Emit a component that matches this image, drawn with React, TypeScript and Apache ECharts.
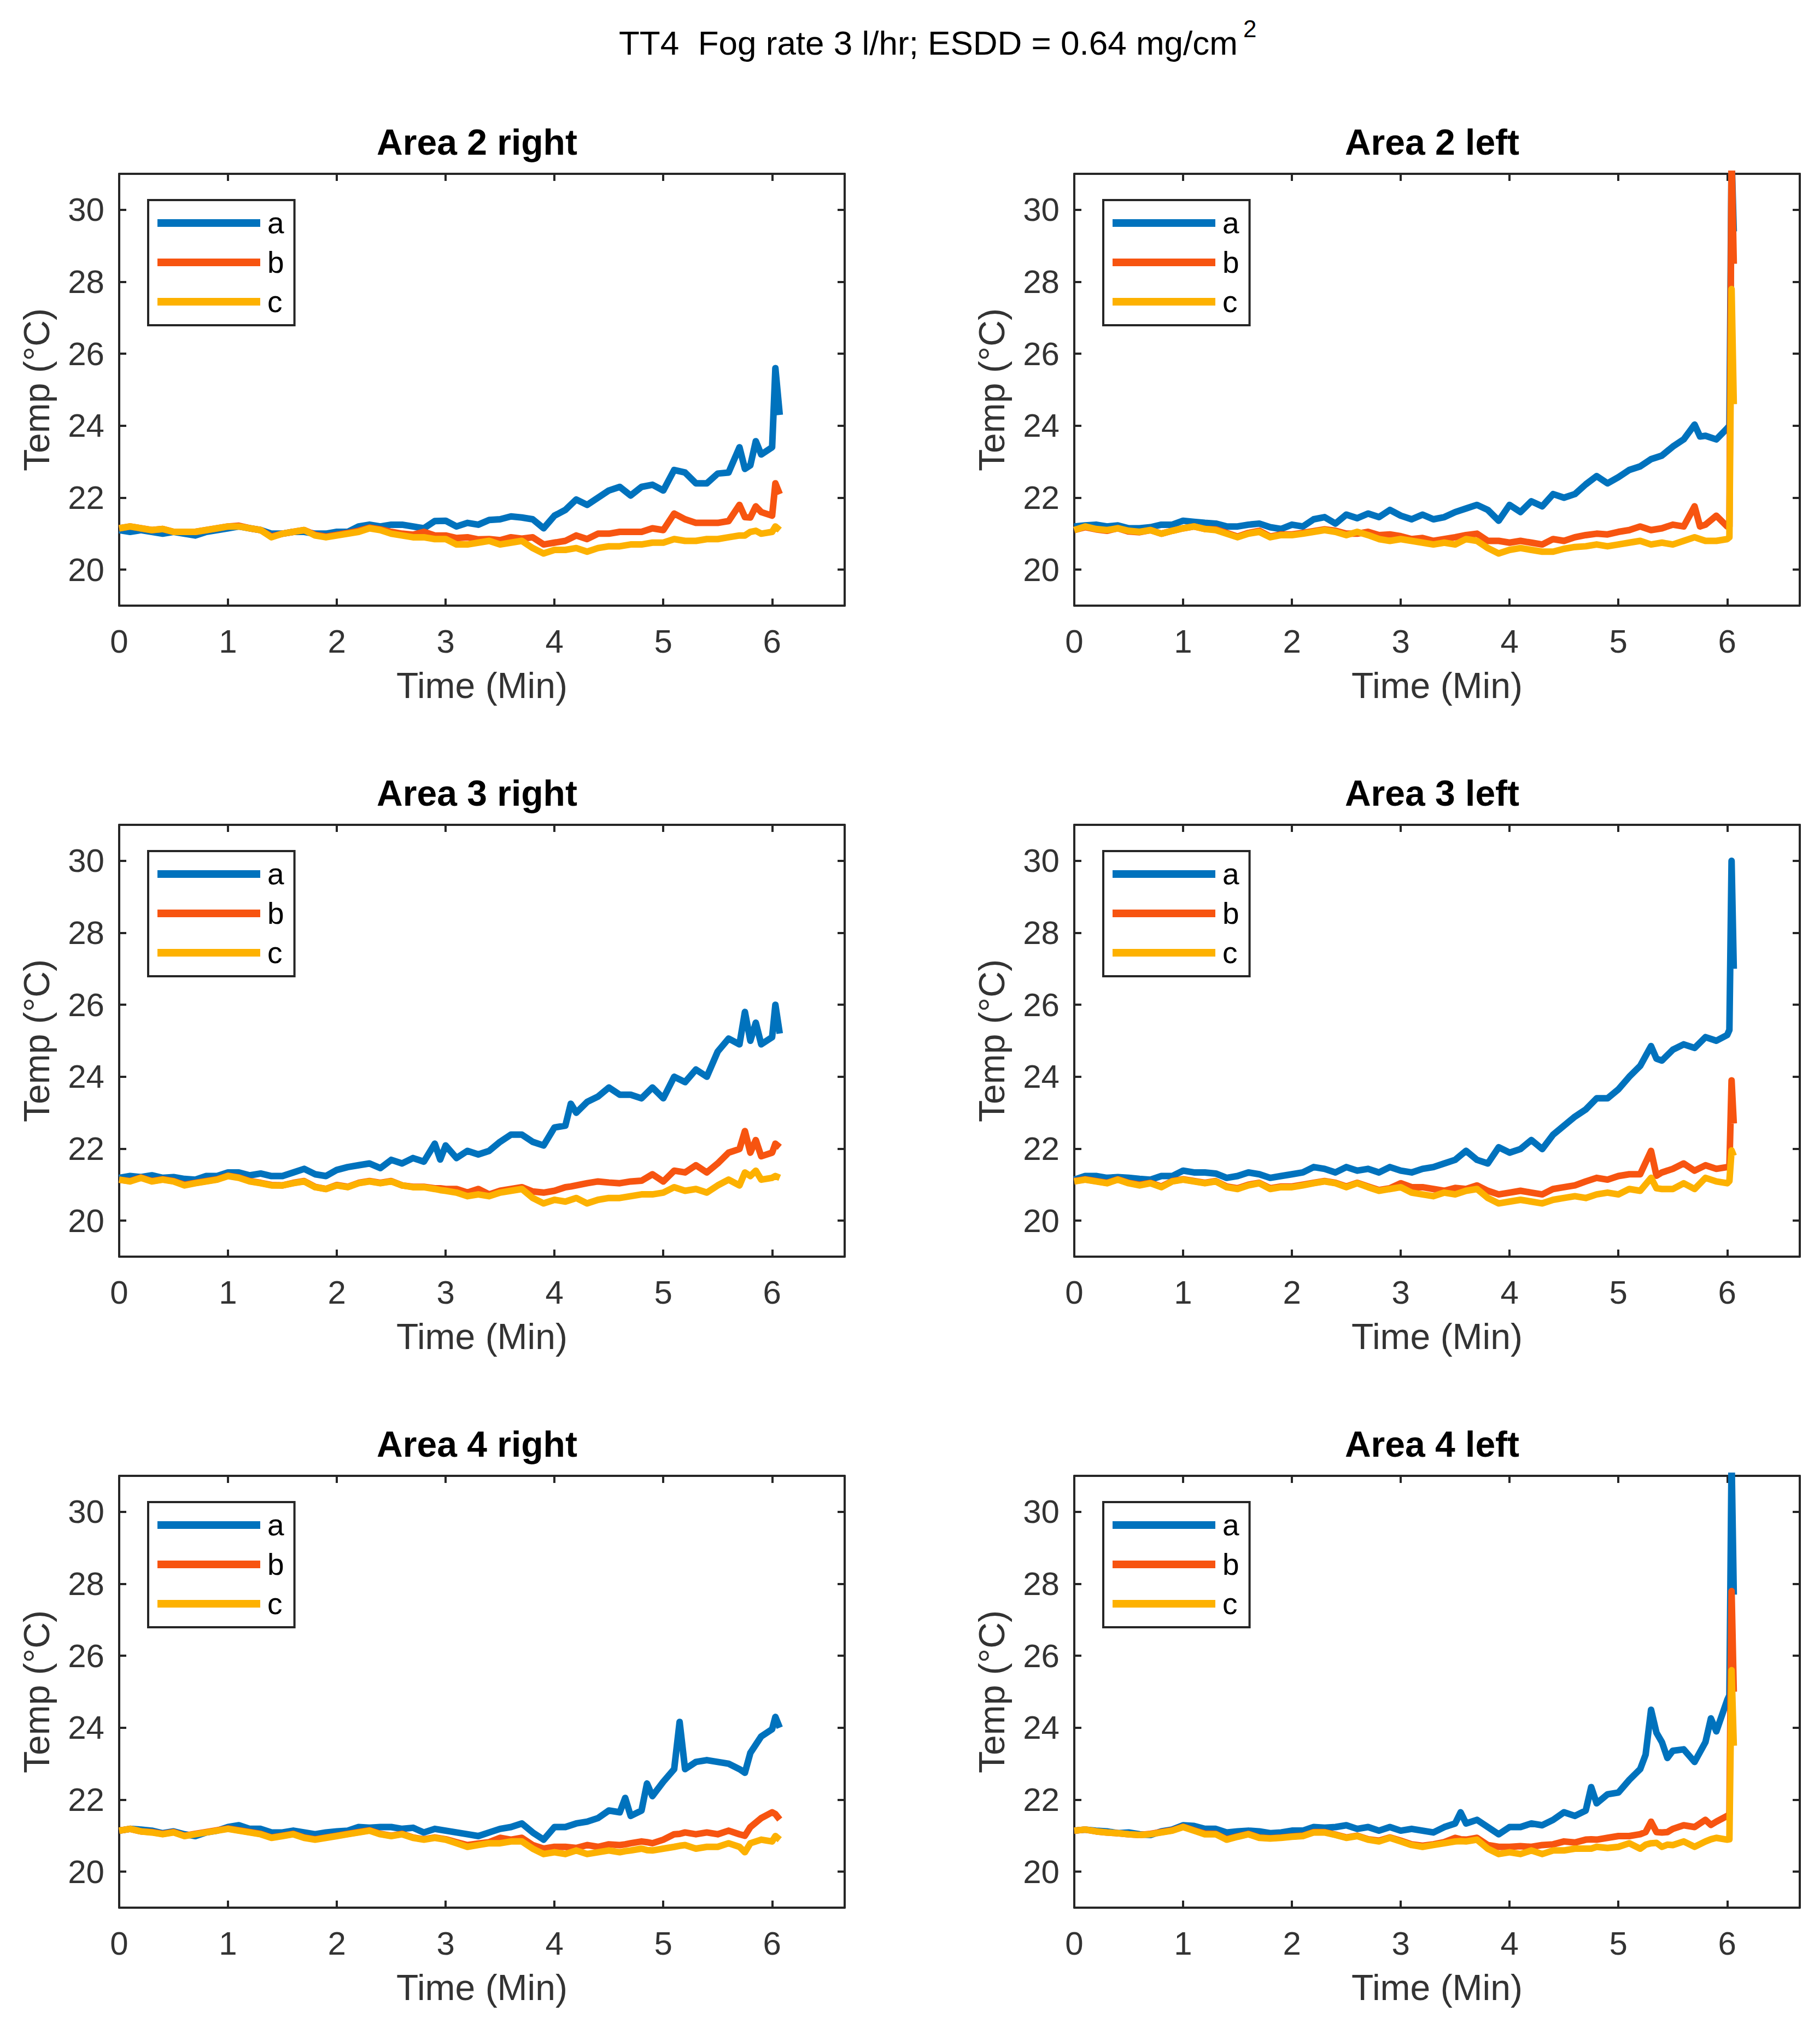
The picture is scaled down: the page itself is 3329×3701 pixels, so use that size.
import React, { useEffect, useRef } from "react";
import * as echarts from "echarts";

const W = 3329;
const H = 3701;
const FONT = "'Liberation Sans', Arial, Helvetica, sans-serif";

const COLOR_A = "#0072BD";
const COLOR_B = "#F75410";
const COLOR_C = "#FDB100";

const MAIN_TITLE = "TT4  Fog rate 3 l/hr; ESDD = 0.64 mg/cm";
const MAIN_TITLE_SUP = "2";
const X_NAME = "Time (Min)";
const Y_NAME = "Temp (°C)";
const SERIES_NAMES = ["a", "b", "c"];
const X_TICKS = [0, 1, 2, 3, 4, 5, 6];
const Y_TICKS = [20, 22, 24, 26, 28, 30];
const X_MIN = 0;
const X_MAX = 6.6667;
const Y_MIN = 19;
const Y_MAX = 31;

const TIME = [
  0, 0.1, 0.2, 0.3, 0.4, 0.5, 0.6, 0.7, 0.8, 0.9,
  1.0, 1.1, 1.2, 1.3, 1.4, 1.5, 1.6, 1.7, 1.8, 1.9,
  2.0, 2.1, 2.2, 2.3, 2.4, 2.5, 2.6, 2.7, 2.8, 2.9,
  3.0, 3.1, 3.2, 3.3, 3.4, 3.5, 3.6, 3.7, 3.8, 3.9,
  4.0, 4.1, 4.2, 4.3, 4.4, 4.5, 4.6, 4.7, 4.8, 4.9,
  5.0, 5.1, 5.2, 5.3, 5.4, 5.5, 5.6, 5.7, 5.8, 5.9, 6.0,
];

// ---------- Area 2 right ----------
const A2R_A = [
  21.1, 21.05, 21.1, 21.05, 21.0, 21.05, 21.0, 20.95, 21.05, 21.1,
  21.15, 21.2, 21.15, 21.1, 21.0, 21.0, 21.05, 21.05, 21.0, 21.0,
  21.05, 21.05, 21.2, 21.25, 21.2, 21.25, 21.25, 21.2, 21.15, 21.35,
  21.36, 21.2, 21.3, 21.25, 21.38, 21.4, 21.48, 21.45, 21.4, 21.15,
  21.5, 21.66, 21.95, 21.8, 22.0, 22.2, 22.3, 22.06, 22.3, 22.36,
  22.2, 22.77, 22.7, 22.4, 22.4, 22.67, 22.7, 23.4, 22.9, 23.2, 23.4,
];
const A2R_B = [
  21.15, 21.2, 21.15, 21.1, 21.13, 21.05, 21.05, 21.05, 21.1, 21.15,
  21.2, 21.22, 21.15, 21.1, 20.92, 21.0, 21.05, 21.1, 20.97, 20.92,
  20.97, 21.02, 21.08, 21.17, 21.12, 21.05, 21.0, 20.97, 21.05, 20.95,
  20.95, 20.88, 20.9, 20.84, 20.85, 20.82, 20.9, 20.86, 20.9, 20.7,
  20.75, 20.8, 20.95, 20.85, 21.0, 21.0, 21.05, 21.05, 21.05, 21.15,
  21.1, 21.56, 21.4, 21.3, 21.3, 21.3, 21.35, 21.8, 21.45, 21.6, 21.5,
];
const A2R_C = [
  21.15, 21.2, 21.15, 21.1, 21.13, 21.05, 21.05, 21.05, 21.1, 21.15,
  21.2, 21.2, 21.15, 21.1, 20.9, 21.0, 21.05, 21.1, 20.95, 20.9,
  20.95, 21.0, 21.05, 21.15, 21.1, 21.0, 20.95, 20.9, 20.9, 20.85,
  20.85, 20.7, 20.7, 20.75, 20.8, 20.7, 20.75, 20.8, 20.6, 20.45,
  20.55, 20.55, 20.6, 20.5, 20.6, 20.65, 20.65, 20.7, 20.7, 20.75,
  20.75, 20.85, 20.8, 20.8, 20.85, 20.85, 20.9, 20.95, 21.05, 21.0, 21.05,
];
const A2R_EX_T = [5.75, 5.85, 6.03, 6.07];
const A2R_EX_A = [22.8, 23.57, 25.6, 24.3];
const A2R_EX_B = [21.46, 21.76, 22.4, 22.1];
const A2R_EX_C = [20.95, 21.08, 21.2, 21.1];

// ---------- Area 2 left ----------
const A2L_A = [
  21.2, 21.23, 21.25, 21.2, 21.23, 21.15, 21.15, 21.18, 21.25, 21.25,
  21.36, 21.33, 21.3, 21.28, 21.2, 21.2, 21.25, 21.28, 21.18, 21.13,
  21.25, 21.2, 21.4, 21.46, 21.28, 21.53, 21.43, 21.56, 21.46, 21.66,
  21.5, 21.4, 21.53, 21.4, 21.46, 21.6, 21.7, 21.8, 21.66, 21.36,
  21.8, 21.6, 21.9, 21.76, 22.1, 22.0, 22.1, 22.37, 22.6, 22.4,
  22.57, 22.77, 22.87, 23.07, 23.17, 23.42, 23.62, 24.03, 23.72, 23.62, 23.93,
];
const A2L_B = [
  21.1, 21.18, 21.12, 21.08, 21.15, 21.06, 21.04, 21.1, 21.0, 21.08,
  21.15, 21.2, 21.13, 21.12, 21.02, 20.92, 21.02, 21.08, 20.92, 20.98,
  20.98, 21.02, 21.07, 21.12, 21.08, 21.0, 21.0, 21.05, 20.96, 20.98,
  20.93, 20.85, 20.88, 20.8, 20.85, 20.9, 20.96, 21.0, 20.8, 20.8,
  20.75, 20.8, 20.75, 20.7, 20.85, 20.8, 20.9, 20.96, 21.0, 20.98,
  21.05, 21.1, 21.2, 21.1, 21.15, 21.25, 21.2, 21.76, 21.25, 21.5, 21.2,
];
const A2L_C = [
  21.1, 21.2, 21.13, 21.1, 21.15, 21.08, 21.05, 21.1, 21.0, 21.08,
  21.15, 21.2, 21.13, 21.1, 21.0, 20.9, 21.0, 21.05, 20.9, 20.96,
  20.96, 21.0, 21.05, 21.1, 21.05, 20.96, 21.05, 20.96, 20.85, 20.8,
  20.85, 20.8, 20.75, 20.7, 20.75, 20.7, 20.85, 20.8, 20.6, 20.45,
  20.55, 20.6, 20.55, 20.5, 20.5, 20.58, 20.63, 20.65, 20.7, 20.65,
  20.7, 20.75, 20.8, 20.7, 20.75, 20.7, 20.8, 20.9, 20.8, 20.8, 20.85,
];
const A2L_EX_T = [5.75, 6.02, 6.04, 6.06];
const A2L_EX_A = [23.7, 24.0, 31.5, 29.4];
const A2L_EX_B = [21.2, 21.2, 31.5, 28.5];
const A2L_EX_C = [20.85, 20.9, 27.8, 24.6];

// ---------- Area 3 right ----------
const A3R_A = [
  21.19, 21.24, 21.21, 21.26, 21.19, 21.21, 21.16, 21.14, 21.24, 21.24,
  21.34, 21.34, 21.26, 21.31, 21.24, 21.24, 21.34, 21.44, 21.29, 21.24,
  21.41, 21.49, 21.54, 21.59, 21.46, 21.69, 21.59, 21.74, 21.64, 22.14,
  22.09, 21.74, 21.94, 21.84, 21.94, 22.19, 22.39, 22.39, 22.19, 22.09,
  22.59, 22.64, 23.0, 23.3, 23.45, 23.7, 23.5, 23.5, 23.4, 23.7,
  23.4, 24.0, 23.85, 24.2, 24.0, 24.7, 25.06, 24.9, 25.0, 24.9, 25.1,
];
const A3R_B = [
  21.14, 21.1, 21.2, 21.1, 21.15, 21.1, 21.0, 21.05, 21.1, 21.15,
  21.25, 21.2, 21.1, 21.05, 20.99, 20.98, 21.05, 21.1, 20.94, 20.88,
  20.99, 20.94, 21.05, 21.1, 21.05, 21.1, 20.98, 20.94, 20.94, 20.9,
  20.88, 20.88, 20.78, 20.88, 20.73, 20.83, 20.88, 20.93, 20.81, 20.78,
  20.83, 20.93, 20.98, 21.04, 21.09, 21.06, 21.04, 21.09, 21.11, 21.29,
  21.09, 21.39, 21.34, 21.54, 21.34, 21.59, 21.89, 21.99, 21.89, 21.79, 21.89,
];
const A3R_C = [
  21.14, 21.09, 21.19, 21.09, 21.14, 21.09, 20.98, 21.04, 21.09, 21.14,
  21.24, 21.19, 21.09, 21.04, 20.98, 20.98, 21.04, 21.09, 20.93, 20.88,
  20.98, 20.93, 21.04, 21.09, 21.04, 21.09, 20.98, 20.93, 20.93, 20.88,
  20.83, 20.78, 20.68, 20.73, 20.68, 20.78, 20.83, 20.88, 20.63, 20.48,
  20.58, 20.53, 20.63, 20.48, 20.58, 20.63, 20.63, 20.68, 20.73, 20.73,
  20.78, 20.93, 20.83, 20.88, 20.78, 20.98, 21.14, 20.98, 21.24, 21.14, 21.19,
];
const A3R_EX_T = [2.95, 4.15, 5.75, 5.85, 6.03, 6.07];
const A3R_EX_A = [21.7, 23.25, 25.8, 25.5, 26.0, 25.2];
const A3R_EX_B = [20.9, 20.95, 22.49, 22.24, 22.14, 22.04];
const A3R_EX_C = [20.85, 20.58, 21.34, 21.39, 21.24, 21.19];

// ---------- Area 3 left ----------
const A3L_A = [
  21.14, 21.24, 21.24, 21.19, 21.21, 21.19, 21.16, 21.14, 21.24, 21.24,
  21.39, 21.34, 21.34, 21.31, 21.19, 21.24, 21.34, 21.29, 21.19, 21.24,
  21.29, 21.34, 21.49, 21.44, 21.34, 21.49, 21.39, 21.44, 21.34, 21.49,
  21.39, 21.34, 21.44, 21.49, 21.59, 21.69, 21.94, 21.69, 21.59, 22.04,
  21.89, 21.99, 22.24, 21.99, 22.39, 22.64, 22.89, 23.09, 23.4, 23.4,
  23.65, 24.0, 24.3, 24.85, 24.45, 24.75, 24.9, 24.8, 25.1, 25.0, 25.16,
];
const A3L_B = [
  21.1, 21.15, 21.1, 21.05, 21.15, 21.05, 21.0, 21.05, 20.95, 21.1,
  21.15, 21.1, 21.05, 21.1, 20.95, 20.9, 21.0, 21.05, 20.9, 20.95,
  20.95, 21.0, 21.05, 21.1, 21.05, 20.95, 21.05, 20.95, 20.85, 20.9,
  21.04, 20.93, 20.93, 20.88, 20.83, 20.91, 20.88, 20.98, 20.83, 20.73,
  20.78, 20.83, 20.78, 20.73, 20.88, 20.93, 20.98, 21.09, 21.19, 21.14,
  21.24, 21.29, 21.29, 21.94, 21.34, 21.44, 21.59, 21.39, 21.54, 21.44, 21.49,
];
const A3L_C = [
  21.09, 21.14, 21.09, 21.04, 21.14, 21.04, 20.98, 21.04, 20.93, 21.09,
  21.14, 21.09, 21.04, 21.09, 20.93, 20.88, 20.98, 21.04, 20.88, 20.93,
  20.93, 20.98, 21.04, 21.09, 21.04, 20.93, 21.04, 20.93, 20.83, 20.88,
  20.93, 20.78, 20.73, 20.68, 20.78, 20.73, 20.83, 20.88, 20.63, 20.48,
  20.53, 20.58, 20.53, 20.48, 20.58, 20.63, 20.68, 20.63, 20.73, 20.78,
  20.73, 20.88, 20.83, 21.19, 20.88, 20.88, 21.04, 20.88, 21.19, 21.09, 21.04,
];
const A3L_EX_T = [5.35, 6.02, 6.04, 6.06];
const A3L_EX_A = [24.5, 25.3, 30.0, 27.0];
const A3L_EX_B = [21.25, 21.5, 23.9, 22.7];
const A3L_EX_C = [20.9, 21.1, 21.95, 21.8];

// ---------- Area 4 right ----------
const A4R_A = [
  21.14, 21.19, 21.17, 21.14, 21.07, 21.12, 21.04, 20.99, 21.09, 21.14,
  21.24, 21.29, 21.19, 21.19, 21.09, 21.09, 21.14, 21.09, 21.04, 21.09,
  21.12, 21.14, 21.24, 21.22, 21.24, 21.24, 21.19, 21.22, 21.09, 21.19,
  21.14, 21.09, 21.04, 20.99, 21.09, 21.19, 21.24, 21.34, 21.09, 20.89,
  21.24, 21.24, 21.34, 21.39, 21.49, 21.7, 21.65, 21.55, 21.7, 22.1,
  22.5, 22.85, 22.85, 23.05, 23.1, 23.05, 23.0, 22.85, 23.3, 23.76, 23.96,
];
const A4R_B = [
  21.14, 21.19, 21.12, 21.1, 21.05, 21.1, 21.0, 21.05, 21.1, 21.15,
  21.2, 21.15, 21.1, 21.05, 20.95, 21.0, 21.05, 20.95, 20.9, 20.95,
  21.0, 21.05, 21.1, 21.15, 21.05, 21.0, 21.05, 20.95, 20.9, 20.95,
  20.9, 20.82, 20.74, 20.78, 20.82, 20.94, 20.89, 20.94, 20.74, 20.64,
  20.69, 20.69, 20.66, 20.74, 20.69, 20.76, 20.74, 20.79, 20.84, 20.79,
  20.89, 21.04, 21.09, 21.04, 21.09, 21.04, 21.14, 21.04, 21.24, 21.49, 21.65,
];
const A4R_C = [
  21.14, 21.19, 21.12, 21.09, 21.04, 21.09, 20.99, 21.04, 21.09, 21.14,
  21.19, 21.14, 21.09, 21.04, 20.94, 20.99, 21.04, 20.94, 20.89, 20.94,
  20.99, 21.04, 21.09, 21.14, 21.04, 20.99, 21.04, 20.94, 20.89, 20.94,
  20.89, 20.79, 20.69, 20.74, 20.79, 20.79, 20.84, 20.84, 20.64, 20.49,
  20.54, 20.49, 20.59, 20.49, 20.54, 20.59, 20.54, 20.59, 20.64, 20.59,
  20.64, 20.69, 20.74, 20.64, 20.69, 20.69, 20.79, 20.69, 20.79, 20.89, 20.84,
];
const A4R_EX_T = [4.65, 4.85, 5.15, 5.75, 6.03, 6.07];
const A4R_EX_A = [22.05, 22.45, 24.16, 22.75, 24.3, 24.0];
const A4R_EX_B = [20.76, 20.82, 21.05, 21.0, 21.6, 21.45];
const A4R_EX_C = [20.57, 20.6, 20.72, 20.54, 20.99, 20.89];

// ---------- Area 4 left ----------
const A4L_A = [
  21.14, 21.17, 21.14, 21.12, 21.07, 21.09, 21.04, 21.02, 21.12, 21.17,
  21.29, 21.27, 21.19, 21.19, 21.09, 21.12, 21.14, 21.12, 21.07, 21.09,
  21.14, 21.14, 21.24, 21.22, 21.24, 21.29, 21.19, 21.24, 21.14, 21.24,
  21.14, 21.19, 21.14, 21.09, 21.24, 21.34, 21.34, 21.44, 21.24, 21.04,
  21.24, 21.24, 21.34, 21.29, 21.44, 21.65, 21.55, 21.7, 21.9, 22.15,
  22.2, 22.55, 22.85, 24.5, 23.6, 23.36, 23.4, 23.05, 23.6, 23.9, 24.77,
];
const A4L_B = [
  21.14, 21.17, 21.12, 21.09, 21.07, 21.04, 21.02, 21.05, 21.1, 21.15,
  21.25, 21.15, 21.06, 21.05, 20.9, 20.98, 21.05, 20.95, 20.93, 20.95,
  20.98, 21.0, 21.1, 21.1, 21.03, 20.95, 21.0, 20.9, 20.86, 20.95,
  20.86, 20.76, 20.72, 20.76, 20.82, 20.94, 20.89, 20.94, 20.74, 20.69,
  20.69, 20.71, 20.69, 20.74, 20.76, 20.84, 20.81, 20.89, 20.89, 20.94,
  20.99, 20.99, 21.04, 21.39, 21.09, 21.19, 21.29, 21.24, 21.44, 21.39, 21.55,
];
const A4L_C = [
  21.14, 21.17, 21.12, 21.09, 21.07, 21.04, 21.02, 21.04, 21.09, 21.14,
  21.24, 21.14, 21.04, 21.04, 20.89, 20.97, 21.04, 20.94, 20.92, 20.94,
  20.97, 20.99, 21.09, 21.09, 21.02, 20.94, 20.99, 20.89, 20.84, 20.94,
  20.84, 20.74, 20.69, 20.74, 20.79, 20.84, 20.84, 20.89, 20.64, 20.49,
  20.54, 20.49, 20.59, 20.49, 20.59, 20.59, 20.64, 20.64, 20.69, 20.66,
  20.69, 20.79, 20.64, 20.79, 20.69, 20.74, 20.84, 20.69, 20.84, 20.94, 20.89,
];
const A4L_EX_T = [3.55, 4.75, 5.25, 5.35, 5.45, 5.85, 6.02, 6.04, 6.06];
const A4L_EX_A = [21.65, 22.35, 23.25, 23.86, 23.16, 24.26, 24.9, 31.5, 27.7];
const A4L_EX_B = [20.9, 20.9, 21.1, 21.1, 21.1, 21.3, 21.6, 27.8, 25.0];
const A4L_EX_C = [20.85, 20.64, 20.75, 20.8, 20.75, 20.9, 20.9, 25.6, 23.5];

const PANELS = [
  { title: "Area 2 right", row: 0, col: 0, a: A2R_A, b: A2R_B, c: A2R_C, exT: A2R_EX_T, exA: A2R_EX_A, exB: A2R_EX_B, exC: A2R_EX_C },
  { title: "Area 2 left", row: 0, col: 1, a: A2L_A, b: A2L_B, c: A2L_C, exT: A2L_EX_T, exA: A2L_EX_A, exB: A2L_EX_B, exC: A2L_EX_C },
  { title: "Area 3 right", row: 1, col: 0, a: A3R_A, b: A3R_B, c: A3R_C, exT: A3R_EX_T, exA: A3R_EX_A, exB: A3R_EX_B, exC: A3R_EX_C },
  { title: "Area 3 left", row: 1, col: 1, a: A3L_A, b: A3L_B, c: A3L_C, exT: A3L_EX_T, exA: A3L_EX_A, exB: A3L_EX_B, exC: A3L_EX_C },
  { title: "Area 4 right", row: 2, col: 0, a: A4R_A, b: A4R_B, c: A4R_C, exT: A4R_EX_T, exA: A4R_EX_A, exB: A4R_EX_B, exC: A4R_EX_C },
  { title: "Area 4 left", row: 2, col: 1, a: A4L_A, b: A4L_B, c: A4L_C, exT: A4L_EX_T, exA: A4L_EX_A, exB: A4L_EX_B, exC: A4L_EX_C },
];

// layout (pixels)
const GRID_LEFTS = [218, 1965];
const GRID_TOPS = [318, 1509, 2700];
const GRID_W = 1327;
const GRID_H = 790;
const AXIS_COLOR = "#262626";
const LABEL_COLOR = "#333333";

function merge(time: number[], vals: number[], exT: number[], exV: number[]) {
  const pts: [number, number][] = [];
  for (let i = 0; i < time.length; i++) pts.push([time[i], vals[i]]);
  for (let i = 0; i < exT.length; i++) pts.push([exT[i], exV[i]]);
  pts.sort((p, q) => p[0] - q[0]);
  return pts;
}

function buildOption() {
  const grid: any[] = [];
  const xAxis: any[] = [];
  const yAxis: any[] = [];
  const series: any[] = [];
  const legend: any[] = [];
  const graphic: any[] = [];

  const tickStyle = { lineStyle: { color: AXIS_COLOR, width: 4 } };

  PANELS.forEach((p, i) => {
    const left = GRID_LEFTS[p.col];
    const top = GRID_TOPS[p.row];
    grid.push({ left, top, width: GRID_W, height: GRID_H, show: false, containLabel: false });

    const xBase = {
      type: "value",
      gridIndex: i,
      min: X_MIN,
      max: X_MAX,
      splitLine: { show: false },
      axisLine: { show: true, onZero: false, lineStyle: { color: AXIS_COLOR, width: 4 } },
    };
    xAxis.push({
      ...xBase,
      position: "bottom",
      name: X_NAME,
      nameLocation: "middle",
      nameGap: 113,
      nameTextStyle: { fontSize: 66, color: LABEL_COLOR, fontFamily: FONT },
      axisTick: { show: true, inside: true, length: 13, customValues: X_TICKS, ...tickStyle },
      axisLabel: { show: true, margin: 35, fontSize: 60, color: LABEL_COLOR, fontFamily: FONT, customValues: X_TICKS },
    });
    xAxis.push({
      ...xBase,
      position: "top",
      axisTick: { show: true, inside: true, length: 13, customValues: X_TICKS, ...tickStyle },
      axisLabel: { show: false },
    });

    const yBase = {
      type: "value",
      gridIndex: i,
      min: Y_MIN,
      max: Y_MAX,
      splitLine: { show: false },
      axisLine: { show: true, onZero: false, lineStyle: { color: AXIS_COLOR, width: 4 } },
    };
    yAxis.push({
      ...yBase,
      position: "left",
      name: Y_NAME,
      nameLocation: "middle",
      nameGap: 118,
      nameRotate: 90,
      nameTextStyle: { fontSize: 66, color: LABEL_COLOR, fontFamily: FONT },
      axisTick: { show: true, inside: true, length: 13, customValues: Y_TICKS, ...tickStyle },
      axisLabel: { show: true, margin: 27, fontSize: 60, color: LABEL_COLOR, fontFamily: FONT, customValues: Y_TICKS },
    });
    yAxis.push({
      ...yBase,
      position: "right",
      axisTick: { show: true, inside: true, length: 13, customValues: Y_TICKS, ...tickStyle },
      axisLabel: { show: false },
    });

    const sets = [
      { name: SERIES_NAMES[0], color: COLOR_A, data: merge(TIME, p.a, p.exT, p.exA) },
      { name: SERIES_NAMES[1], color: COLOR_B, data: merge(TIME, p.b, p.exT, p.exB) },
      { name: SERIES_NAMES[2], color: COLOR_C, data: merge(TIME, p.c, p.exT, p.exC) },
    ];
    sets.forEach((s) => {
      series.push({
        type: "line",
        name: s.name,
        xAxisIndex: 2 * i,
        yAxisIndex: 2 * i,
        data: s.data,
        color: s.color,
        showSymbol: false,
        symbol: "none",
        clip: true,
        silent: true,
        lineStyle: { color: s.color, width: 12, join: "round" },
        itemStyle: { color: s.color },
      });
    });

    legend.push({
      orient: "vertical",
      left: left + 53,
      top: top + 48,
      data: SERIES_NAMES,
      icon: "rect",
      itemWidth: 188,
      itemHeight: 14,
      itemGap: 16,
      padding: [14, 19, 15, 17],
      borderColor: AXIS_COLOR,
      borderWidth: 4,
      backgroundColor: "#ffffff",
      selectedMode: false,
      textStyle: { fontSize: 55, color: "#000", fontFamily: FONT, lineHeight: 56, padding: [0, 0, 0, 8] },
    });

    graphic.push({
      type: "text",
      x: left + GRID_W / 2 - 9,
      y: top - 58,
      style: {
        text: p.title,
        fill: "#000",
        font: `bold 66px ${FONT}`,
        align: "center",
        verticalAlign: "middle",
      },
    });
  });

  graphic.push({
    type: "text",
    x: 1132,
    y: 78,
    style: {
      text: `{n|${MAIN_TITLE}}{s|${MAIN_TITLE_SUP}}`,
      align: "left",
      verticalAlign: "middle",
      rich: {
        n: { fontSize: 62, fontFamily: FONT, fill: "#000", color: "#000" },
        s: { fontSize: 44, fontFamily: FONT, fill: "#000", color: "#000", padding: [0, 0, 52, 10] },
      },
    },
  });

  return {
    animation: false,
    backgroundColor: "#ffffff",
    grid,
    xAxis,
    yAxis,
    series,
    legend,
    graphic,
  };
}

export default function App() {
  const ref = useRef<HTMLDivElement>(null);
  useEffect(() => {
    if (!ref.current) return;
    const chart = echarts.init(ref.current, null, { renderer: "svg", width: W, height: H });
    chart.setOption(buildOption() as any);
    return () => chart.dispose();
  }, []);
  return (
    <div
      ref={ref}
      style={{ position: "absolute", left: 0, top: 0, width: W, height: H, background: "#fff" }}
    />
  );
}
